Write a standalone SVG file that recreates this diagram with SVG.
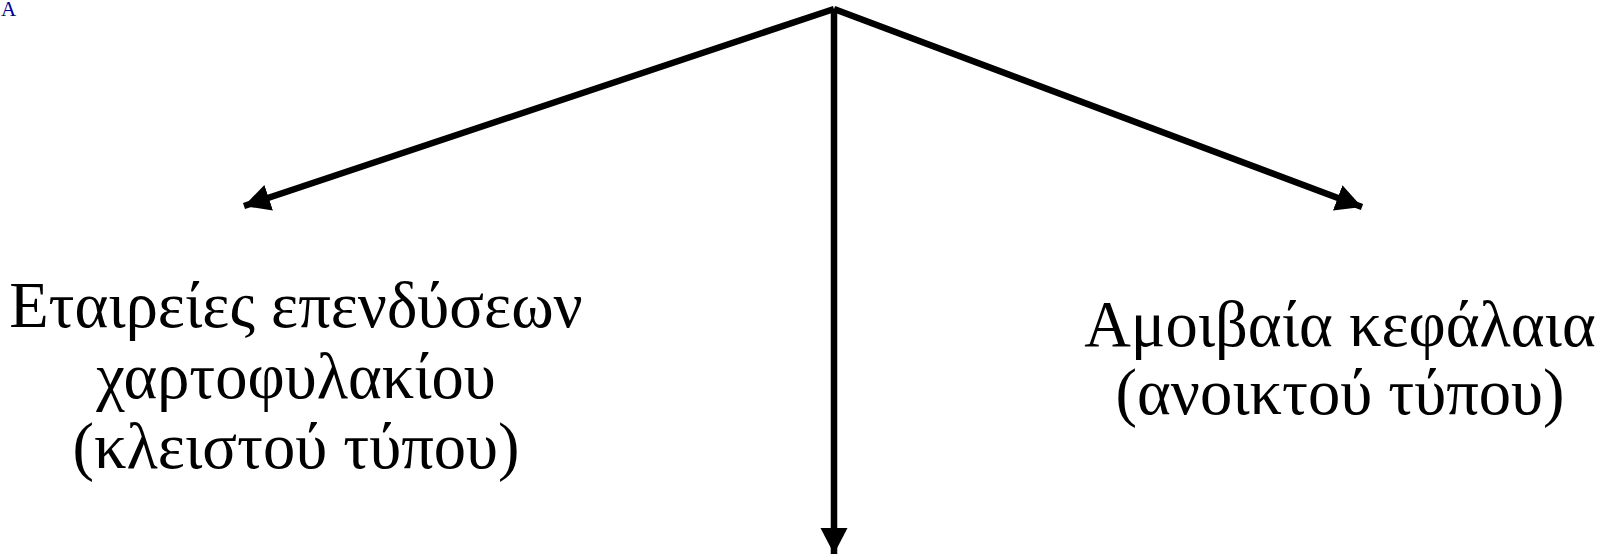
<svg xmlns="http://www.w3.org/2000/svg" width="1605" height="554" viewBox="0 0 1605 554">
<style>
.lbl{font-family:"Liberation Serif","Times New Roman",serif;font-size:64.5px;fill:#000;text-anchor:middle}
.conn{stroke:#000;stroke-width:6.5;fill:none}
</style>
<defs>
<marker id="ah" markerUnits="userSpaceOnUse" markerWidth="30" markerHeight="30" refX="26" refY="13.5" orient="auto">
<path d="M0,0 L26,13.5 L0,27 Z" fill="#000"/>
</marker>
</defs>
<rect width="1605" height="554" fill="#fff"/>
<text x="1" y="16" font-family="Liberation Serif, serif" font-size="21" fill="#000099">A</text>
<g id="connectors">
<line class="conn" x1="834" y1="9" x2="244" y2="206" marker-end="url(#ah)"/>
<line class="conn" x1="834" y1="9" x2="1362" y2="207" marker-end="url(#ah)"/>
<line class="conn" x1="834" y1="9" x2="834" y2="554" marker-end="url(#ah)"/>
</g>
<g id="node-closed">
<text class="lbl" x="296" y="327">Εταιρείες επενδύσεων</text>
<text class="lbl" x="296" y="398">χαρτοφυλακίου</text>
<text class="lbl" x="296" y="468">(κλειστού τύπου)</text>
</g>
<g id="node-open">
<text class="lbl" x="1340" y="346">Αμοιβαία κεφάλαια</text>
<text class="lbl" x="1340" y="414">(ανοικτού τύπου)</text>
</g>
</svg>
